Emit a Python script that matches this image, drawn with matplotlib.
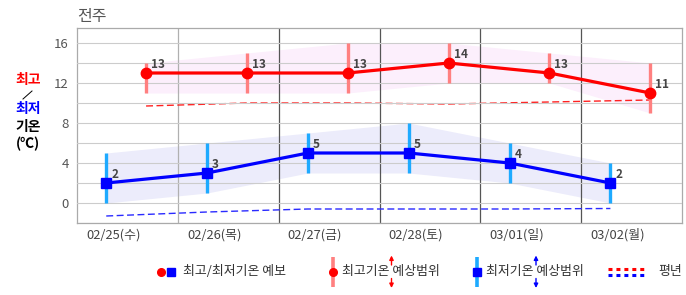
import numpy as np
import matplotlib
matplotlib.use('Agg')
import matplotlib.pyplot as plt

plt.rcParams['font.family'] = ['Noto Sans CJK KR', 'DejaVu Sans']

# data
dates = ['02/25(수)', '02/26(목)', '02/27(금)', '02/28(토)', '03/01(일)', '03/02(월)']
tmax = [13, 13, 13, 14, 13, 11]
tmax_hi = [14, 15, 16, 16, 15, 14]
tmax_lo = [11, 11, 11, 12, 12, 9]
tmax_norm = [9.7, 10.0, 10.0, 9.9, 10.1, 10.3]
tmin = [2, 3, 5, 5, 4, 2]
tmin_hi = [5, 6, 7, 8, 6, 4]
tmin_lo = [0, 1, 3, 3, 2, 0]
tmin_norm = [-1.3, -0.9, -0.6, -0.6, -0.6, -0.55]

day = np.arange(len(dates))
x_min = day + 0.29    # low temp sits early in the day column
x_max = day + 0.685   # high temp later in the day column

W, H = 686, 295
fig = plt.figure(figsize=(W / 100, H / 100), dpi=100)
ax = fig.add_axes([77 / W, 72 / H, 605 / W, 195 / H])
ax.set_xlim(0, 6)
ax.set_ylim(-2, 17.5)

# grid
ax.set_yticks(np.arange(0, 17, 4))
ax.set_yticks(np.arange(-2, 17, 2), minor=True)
ax.grid(which='both', axis='y', color='#cccccc', lw=0.8, zorder=1.5)
ax.set_axisbelow(False)
ax.tick_params(axis='both', which='both', length=0)
ax.tick_params(axis='y', pad=6, labelsize=9.5, labelcolor='#555555')
ax.set_xticks(day + 0.36)
ax.set_xticklabels(dates)
ax.tick_params(axis='x', pad=4, labelsize=9.3, labelcolor='#444444')
for s in ax.spines.values():
    s.set_color('#aaaaaa')
    s.set_linewidth(0.9)
ax.axvline(1, color='#b0b0b0', lw=0.9, zorder=1.6)
for d in range(2, 6):
    ax.axvline(d, color='#555555', lw=0.9, zorder=1.6)

# range bands
ax.fill_between(x_max, tmax_lo, tmax_hi, color='#fcefFC', lw=0, zorder=1)
ax.fill_between(x_min, tmin_lo, tmin_hi, color='#ececfb', lw=0, zorder=1)

# normals
ax.plot(x_max, tmax_norm, color='#ff2020', lw=1.0, dashes=(5, 2.5), zorder=2)
ax.plot(x_min, tmin_norm, color='#2a2aff', lw=1.0, dashes=(5, 2.5), zorder=2)

# range bars
ax.vlines(x_max, tmax_lo, tmax_hi, color='#ff8080', lw=2.4, zorder=3)
ax.vlines(x_min, tmin_lo, tmin_hi, color='#1eaaff', lw=2.4, zorder=3)

# forecast lines
ax.plot(x_max, tmax, color='#ff0000', lw=2.3, marker='o', ms=7.5, zorder=4)
ax.plot(x_min, tmin, color='#0000ff', lw=2.3, marker='s', ms=7.5, zorder=4)

for xs, ys in [(x_max, tmax), (x_min, tmin)]:
    for x, y in zip(xs, ys):
        ax.annotate(str(y), (x, y), xytext=(5, 8), textcoords='offset pixels',
                    ha='left', va='center', fontsize=8.5, fontweight='bold',
                    color='#444444', zorder=5)

# overlay in pixel coords for titles / legend
ov = fig.add_axes([0, 0, 1, 1], zorder=10)
ov.set_axis_off()
ov.set_xlim(0, W)
ov.set_ylim(H, 0)

ov.text(77, 16.5, '전주', fontsize=11.5, color='#555555', va='center', ha='left')

ov.text(28, 80, '최고', color='#ff0000', fontsize=10, fontweight='bold', ha='center', va='center')
ov.plot([23, 32], [99, 91], color='black', lw=0.7)
ov.text(28, 109, '최저', color='#0000ff', fontsize=10, fontweight='bold', ha='center', va='center')
ov.text(28, 127, '기온', color='black', fontsize=10, fontweight='bold', ha='center', va='center')
ov.text(28, 144, '(℃)', color='black', fontsize=10, fontweight='bold', ha='center', va='center')

ly = 271.5
ov.plot([161], [ly], 'o', color='#ff0000', ms=5.5)
ov.plot([171], [ly], 's', color='#0000ff', ms=5.5)
ov.text(183, ly, '최고/최저기온 예보', fontsize=9.3, color='#333333', va='center', ha='left')

ov.plot([333, 333], [257, 287], color='#ff8080', lw=2.6, solid_capstyle='butt')
ov.plot([333], [ly], 'o', color='#ff0000', ms=5.5)
ov.text(342, ly, '최고기온 예상범위', fontsize=9.3, color='#333333', va='center', ha='left')

ov.plot([477, 477], [257, 287], color='#1eaaff', lw=2.6, solid_capstyle='butt')
ov.plot([477], [ly], 's', color='#0000ff', ms=5.5)
ov.text(486, ly, '최저기온 예상범위', fontsize=9.3, color='#333333', va='center', ha='left')

for ax_x, col in [(391.5, '#ff0000'), (536, '#0000ff')]:
    ov.annotate('', xy=(ax_x, 255.5), xytext=(ax_x, 265),
                arrowprops=dict(arrowstyle='-|>', color=col, lw=1, mutation_scale=6,
                                shrinkA=0, shrinkB=0))
    ov.annotate('', xy=(ax_x, 288), xytext=(ax_x, 278.5),
                arrowprops=dict(arrowstyle='-|>', color=col, lw=1, mutation_scale=6,
                                shrinkA=0, shrinkB=0))

ov.plot([608, 647], [269, 269], color='#ff0000', lw=2.2, dashes=(1.3, 1.3))
ov.plot([608, 647], [274.5, 274.5], color='#0000ff', lw=2.2, dashes=(1.3, 1.3))
ov.text(658, ly, '평년', fontsize=9.3, color='#333333', va='center', ha='left')

fig.savefig('out.png', dpi=100)
